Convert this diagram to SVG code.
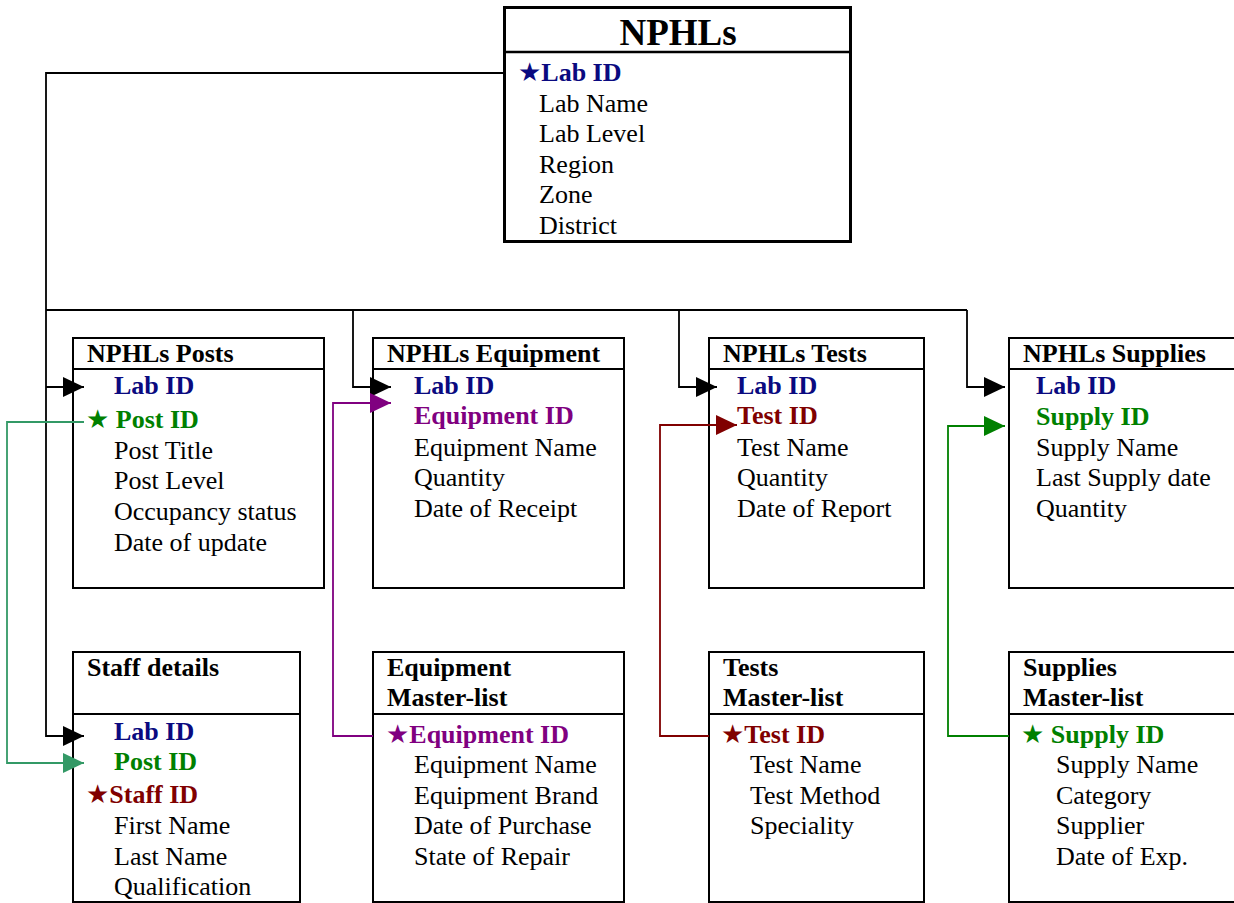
<svg xmlns="http://www.w3.org/2000/svg" width="1234" height="903" viewBox="0 0 1234 903">
<style>
text{font-family:"Liberation Serif","Times New Roman",serif;font-size:26px;fill:#000}
.t{font-weight:bold}
.big{font-size:37px;font-weight:bold}
.b{font-weight:bold;fill:#0a0a80}
.g{font-weight:bold;fill:#008000}
.p{font-weight:bold;fill:#800080}
.r{font-weight:bold;fill:#800000}
.box{fill:#fff;stroke:#000;stroke-width:2}
.div{stroke:#000;stroke-width:2}
.star{font-family:"DejaVu Sans",sans-serif;font-size:26px}
.c{fill:none;stroke-width:1.8}
</style>
<defs>
<marker id="ak" markerUnits="userSpaceOnUse" markerWidth="22" markerHeight="20" refX="21" refY="10" orient="auto"><path d="M0,0 L21,10 L0,20 Z" fill="#000"/></marker>
<marker id="at" markerUnits="userSpaceOnUse" markerWidth="22" markerHeight="20" refX="21" refY="10" orient="auto"><path d="M0,0 L21,10 L0,20 Z" fill="#339966"/></marker>
<marker id="ap" markerUnits="userSpaceOnUse" markerWidth="22" markerHeight="20" refX="21" refY="10" orient="auto"><path d="M0,0 L21,10 L0,20 Z" fill="#800080"/></marker>
<marker id="ar" markerUnits="userSpaceOnUse" markerWidth="22" markerHeight="20" refX="21" refY="10" orient="auto"><path d="M0,0 L21,10 L0,20 Z" fill="#800000"/></marker>
<marker id="ag" markerUnits="userSpaceOnUse" markerWidth="22" markerHeight="20" refX="21" refY="10" orient="auto"><path d="M0,0 L21,10 L0,20 Z" fill="#008000"/></marker>
</defs>
<rect width="1234" height="903" fill="#fff"/>

<g id="nphls">
<rect x="504.5" y="7.5" width="346" height="234" fill="#fff" stroke="#000" stroke-width="3"/>
<line x1="504" y1="52" x2="851" y2="52" stroke="#000" stroke-width="2.5"/>
<text class="big" x="678" y="45" text-anchor="middle">NPHLs</text>
<text x="518" y="81" class="b"><tspan class="star">★</tspan>Lab ID</text>
<text x="539" y="112">Lab Name</text>
<text x="539" y="142">Lab Level</text>
<text x="539" y="173">Region</text>
<text x="539" y="203">Zone</text>
<text x="539" y="234">District</text>
</g>

<g id="posts">
<rect class="box" x="73" y="338" width="251" height="250"/>
<line class="div" x1="73" y1="369" x2="324" y2="369"/>
<text class="t" x="87" y="362">NPHLs Posts</text>
<text class="b" x="114" y="394">Lab ID</text>
<text class="g" x="86" y="428"><tspan class="star">★</tspan> Post ID</text>
<text x="114" y="459">Post Title</text>
<text x="114" y="489">Post Level</text>
<text x="114" y="520">Occupancy status</text>
<text x="114" y="551">Date of update</text>
</g>

<g id="equipment">
<rect class="box" x="373" y="338" width="251" height="250"/>
<line class="div" x1="373" y1="369" x2="624" y2="369"/>
<text class="t" x="387" y="362">NPHLs Equipment</text>
<text class="b" x="414" y="394">Lab ID</text>
<text class="p" x="414" y="424">Equipment ID</text>
<text x="414" y="456">Equipment Name</text>
<text x="414" y="486">Quantity</text>
<text x="414" y="517">Date of Receipt</text>
</g>

<g id="tests">
<rect class="box" x="709" y="338" width="215" height="250"/>
<line class="div" x1="709" y1="369" x2="924" y2="369"/>
<text class="t" x="723" y="362">NPHLs Tests</text>
<text class="b" x="737" y="394">Lab ID</text>
<text class="r" x="737" y="424">Test ID</text>
<text x="737" y="456">Test Name</text>
<text x="737" y="486">Quantity</text>
<text x="737" y="517">Date of Report</text>
</g>

<g id="supplies">
<rect class="box" x="1009" y="338" width="240" height="250"/>
<line class="div" x1="1009" y1="369" x2="1234" y2="369"/>
<text class="t" x="1023" y="362">NPHLs Supplies</text>
<text class="b" x="1036" y="394">Lab ID</text>
<text class="g" x="1036" y="425">Supply ID</text>
<text x="1036" y="456">Supply Name</text>
<text x="1036" y="486">Last Supply date</text>
<text x="1036" y="517">Quantity</text>
</g>

<g id="staff">
<rect class="box" x="73" y="652" width="227" height="250"/>
<line class="div" x1="73" y1="714" x2="300" y2="714"/>
<text class="t" x="87" y="676">Staff details</text>
<text class="b" x="114" y="740">Lab ID</text>
<text class="g" x="114" y="770">Post ID</text>
<text class="r" x="86" y="803"><tspan class="star">★</tspan>Staff ID</text>
<text x="114" y="834">First Name</text>
<text x="114" y="865">Last Name</text>
<text x="114" y="895">Qualification</text>
</g>

<g id="equipment-master">
<rect class="box" x="373" y="652" width="251" height="250"/>
<line class="div" x1="373" y1="714" x2="624" y2="714"/>
<text class="t" x="387" y="676">Equipment</text>
<text class="t" x="387" y="706">Master-list</text>
<text class="p" x="386" y="743"><tspan class="star">★</tspan>Equipment ID</text>
<text x="414" y="773">Equipment Name</text>
<text x="414" y="804">Equipment Brand</text>
<text x="414" y="834">Date of Purchase</text>
<text x="414" y="865">State of Repair</text>
</g>

<g id="tests-master">
<rect class="box" x="709" y="652" width="215" height="250"/>
<line class="div" x1="709" y1="714" x2="924" y2="714"/>
<text class="t" x="723" y="676">Tests</text>
<text class="t" x="723" y="706">Master-list</text>
<text class="r" x="721" y="743"><tspan class="star">★</tspan>Test ID</text>
<text x="750" y="773">Test Name</text>
<text x="750" y="804">Test Method</text>
<text x="750" y="834">Speciality</text>
</g>

<g id="supplies-master">
<rect class="box" x="1009" y="652" width="240" height="250"/>
<line class="div" x1="1009" y1="714" x2="1234" y2="714"/>
<text class="t" x="1023" y="676">Supplies</text>
<text class="t" x="1023" y="706">Master-list</text>
<text class="g" x="1021" y="743"><tspan class="star">★</tspan> Supply ID</text>
<text x="1056" y="773">Supply Name</text>
<text x="1056" y="804">Category</text>
<text x="1056" y="834">Supplier</text>
<text x="1056" y="865">Date of Exp.</text>
</g>

<g id="connectors">
<path class="c" stroke="#000" d="M503,73 H46 V736 H84" marker-end="url(#ak)"/>
<path class="c" stroke="#000" d="M46,310 H967"/>
<path class="c" stroke="#000" d="M46,387 H84" marker-end="url(#ak)"/>
<path class="c" stroke="#000" d="M353,310 V387 H391" marker-end="url(#ak)"/>
<path class="c" stroke="#000" d="M679,310 V387 H717" marker-end="url(#ak)"/>
<path class="c" stroke="#000" d="M967,310 V387 H1005" marker-end="url(#ak)"/>
<path class="c" stroke="#339966" d="M84,422 H7 V763 H84" marker-end="url(#at)"/>
<path class="c" stroke="#800080" d="M373,736 H333 V403 H391" marker-end="url(#ap)"/>
<path class="c" stroke="#800000" d="M709,736 H660 V425 H737" marker-end="url(#ar)"/>
<path class="c" stroke="#008000" d="M1009,736 H948 V426 H1005" marker-end="url(#ag)"/>
</g>
</svg>
